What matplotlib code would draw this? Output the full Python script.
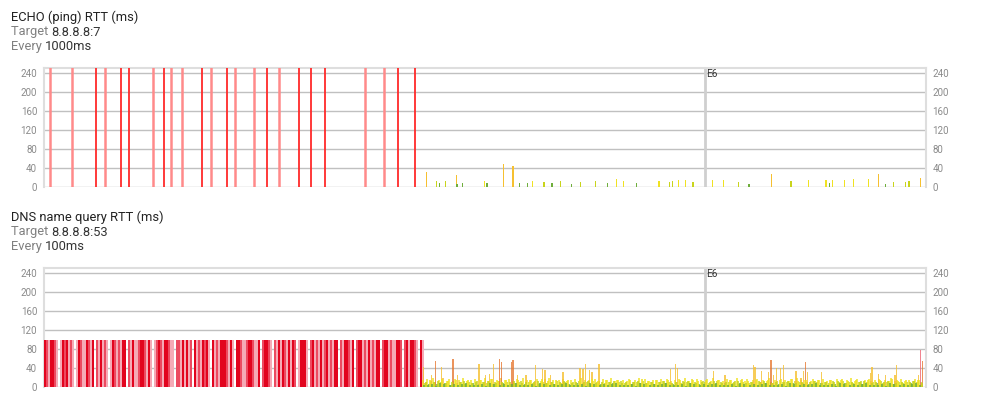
"""
RTT strip charts: ECHO (ping) and DNS name query, shared time window.
"""
import matplotlib
matplotlib.use("Agg")
import matplotlib.pyplot as plt
import numpy as np

plt.rcParams["font.family"] = ["Roboto", "DejaVu Sans"]

# time axis: seconds since window start
WINDOW = 881.5
Y_TOP = 250.6
EVENT_T = 661.0
EVENT_LABEL = "E6"

# ---- ECHO (ping), every 1000ms ----
echo_timeout_t = [5.5, 27.7, 52.3, 60.7, 77.3, 85.3, 108.7, 120.0, 127.3, 137.7,
                  158.3, 167.3, 182.7, 190.7, 210.0, 222.7, 234.7, 255.3, 267.3,
                  281.0, 320.5, 339.7, 354.3, 371.0]
# how many probes in that slot timed out (1 = some, 2 = all)
echo_timeout_count = [1, 1, 2, 1, 2, 2, 1, 2, 1, 1, 2, 1, 2, 1, 1, 2, 1, 2, 2,
                      2, 1, 1, 2, 2]
echo_t = [382.3, 392.3, 395.7, 401.3, 412.3, 413.0, 418.7, 440.7, 443.0, 459.3,
          469.0, 475.3, 483.3, 488.3, 500.0, 508.0, 516.7, 527.3, 536.3, 551.7,
          563.3, 572.3, 579.3, 592.3, 615.0, 625.3, 628.7, 634.3, 641.3, 649.0,
          668.3, 679.3, 694.5, 705.0, 727.3, 747.0, 764.7, 782.0, 785.3, 788.7,
          800.7, 809.3, 824.3, 834.3, 841.7, 849.7, 861.7, 865.0, 876.3]
echo_ms = [32, 12, 8, 12, 25, 6, 8, 13, 8, 48,
           44, 8, 8, 13, 10, 8, 12, 6, 10, 12,
           8, 16, 13, 8, 13, 10, 12, 15, 14, 10,
           15, 15, 10, 7, 27, 12, 14, 14, 8, 15,
           15, 16, 16, 27, 6, 11, 10, 12, 20]

# ---- DNS name query, every 100ms ----
DNS_TIMEOUT_MS = 100
# failures per 2 s bucket during the outage (0 none .. 3 all)
dns_fail_density = ("3213321013" "2312101321" "1321302131" "2101321213"
                    "3021311233" "2131012321" "3321102213" "1312031213"
                    "2310312133" "3213103321" "1233211302" "3321021313"
                    "2131320133" "3102312131" "2312133021" "3321302331"
                    "2131213302" "3312113320" "2313321031")
DNS_BUCKET = 2.0
dns_ok_start = 379.0
dns_ok_ms = [
    14, 9, 16, 6, 12, 18, 10, 7, 15, 11, 20, 8, 13, 17, 5, 12, 16, 9, 14, 11, 19, 7, 13, 10, 15,
    8, 17, 12, 6, 14, 10, 18, 9, 13, 16, 7, 11, 15, 12, 20, 8, 14, 10, 17, 6, 13, 9, 16, 11, 12,
    18, 7, 14, 10, 15, 9, 12, 17, 6, 13, 11, 16, 8, 19, 10, 14, 7, 12, 15, 9, 17, 11, 13, 6, 14,
    10, 16, 8, 12, 18, 9, 14, 11, 15, 7, 13, 17, 10, 12, 6, 16, 9, 14, 11, 19, 8, 13, 15, 10, 12,
    15, 9, 13, 17, 7, 11, 14, 10, 18, 8, 12, 16, 9, 13, 11, 15, 6, 14, 10, 17, 12, 8, 16, 11, 13,
    7, 14, 11, 16, 9, 12, 19, 10, 13, 8, 15, 11, 17, 6, 14, 12, 10, 16, 9, 13, 18, 7, 12, 15, 10,
    13, 8, 16, 11, 14, 9, 12, 18, 7, 15, 10, 13, 17, 9, 11, 14, 6, 16, 12, 10, 15, 8, 13, 19, 11,
    9, 15, 12, 7, 17, 10, 14, 11, 13, 16, 8, 12, 18, 10, 14, 9, 15, 11, 7, 13, 16, 12, 10, 14, 8,
    16, 11, 13, 9, 15, 12, 6, 17, 10, 14, 12, 8, 15, 11, 19, 9, 13, 16, 10, 12, 7, 14, 11, 17, 13,
    10, 14, 8, 16, 12, 9, 15, 11, 13, 18, 7, 12, 14, 10, 16, 9, 13, 11, 15, 8, 12, 17, 10, 14, 11,
]
# the probes in between (odd 1 s slots), repeating pattern of the quiet baseline
dns_between_ms = [5, 11, 4, 14, 7, 10, 3, 12, 8, 16, 6, 9, 13, 5, 11, 7, 15, 4, 10, 6,
                  12, 8, 14, 5, 9]
dns_spike_t = [379.3, 387.7, 391.7, 397.3, 409.0, 413.7, 435.0, 441.3, 445.3, 449.7,
               455.7, 457.7, 467.7, 469.0, 473.7, 482.0, 491.7, 498.3, 501.0, 506.7,
               519.0, 536.0, 539.0, 541.7, 545.7, 548.0, 555.0, 626.3, 631.7, 633.7,
               669.7, 681.0, 709.7, 711.0, 717.3, 724.7, 727.0, 729.7, 732.3, 736.3,
               739.7, 752.0, 757.0, 759.7, 761.3, 763.3, 777.7, 826.3, 828.0, 834.3,
               841.7, 851.0, 852.3, 874.3, 876.3, 878.3]
dns_spike_ms = [42, 26, 54, 42, 59, 26, 48, 25, 28, 49,
                59, 52, 52, 58, 26, 26, 46, 38, 35, 26,
                31, 40, 37, 48, 36, 32, 48, 38, 48, 40,
                34, 25, 46, 42, 34, 31, 56, 26, 40, 40,
                46, 34, 20, 34, 53, 31, 32, 29, 42, 27,
                25, 26, 47, 26, 78, 54]


def rtt_color(v):
    if v < 9:
        return "#6fae3c"
    if v < 13:
        return "#c9d41c"
    if v < 20:
        return "#f0e222"
    if v < 50:
        return "#f6c030"
    if v < 70:
        return "#e67a34"
    return "#ee6674"


def style_axes(ax):
    ax.set_xlim(0, WINDOW)
    ax.set_ylim(0, Y_TOP)
    ax.set_yticks(range(0, 241, 40))
    ax.set_xticks([])
    ax.tick_params(axis="y", length=0, labelsize=7, labelcolor="#8a8a8a", pad=5,
                   labelright=True, right=False)
    ax.grid(axis="y", color="#c0c0c0", linewidth=1)
    ax.set_axisbelow(True)
    for side in ("left", "right", "top"):
        ax.spines[side].set_color("#dedede")
        ax.spines[side].set_linewidth(1.5)
    ax.spines["bottom"].set_visible(False)
    ax.axvline(EVENT_T, color="#cfcfcf", linewidth=2, zorder=1)
    ax.text(EVENT_T + 1.5, 232, EVENT_LABEL, fontsize=7.3, color="#333333",
            va="baseline", ha="left", zorder=5)


def header(fig, y_px, title, target, every):
    H = 403.0
    x0 = 11 / 985
    fs = 9.3
    fig.text(x0, 1 - y_px / H, title, fontsize=fs, color="#222222", va="baseline")
    r = fig.canvas.get_renderer()
    for i, (lab, val) in enumerate([("Target ", target), ("Every ", every)]):
        y = 1 - (y_px + 14.8 * (i + 1)) / H
        t = fig.text(x0, y, lab, fontsize=fs, color="#808080", va="baseline")
        w = t.get_window_extent(r).width / fig.bbox.width
        fig.text(x0 + w, y, val, fontsize=fs, color="#333333", va="baseline")


fig = plt.figure(figsize=(9.85, 4.03), dpi=100)
ax_w = (925.5 - 44) / 985
ax_h = (187 - 68.3) / 403
ax1 = fig.add_axes([44 / 985, 1 - 187 / 403, ax_w, ax_h])
ax2 = fig.add_axes([44 / 985, 1 - 387 / 403, ax_w, ax_h])

# ECHO
style_axes(ax1)
for t, n in zip(echo_timeout_t, echo_timeout_count):
    ax1.axvline(t, color="#ff2a2a" if n == 2 else "#ff8a8a",
                linewidth=1.3 if n == 2 else 1.8, zorder=3)
ax1.bar(echo_t, echo_ms, width=1.5, color=[rtt_color(v) for v in echo_ms],
        linewidth=0, zorder=3)

# DNS
style_axes(ax2)
fail_colors = {"1": "#f5aab6", "2": "#ec4a60", "3": "#e2041e"}
fail_t = [DNS_BUCKET * (i + 0.5) for i, c in enumerate(dns_fail_density) if c != "0"]
fail_c = [fail_colors[c] for c in dns_fail_density if c != "0"]
ax2.bar(fail_t, DNS_TIMEOUT_MS, width=DNS_BUCKET * 0.8, color=fail_c, linewidth=0, zorder=3)

ok_t = dns_ok_start + DNS_BUCKET * np.arange(len(dns_ok_ms))
ax2.bar(ok_t, dns_ok_ms, width=1.5, color=[rtt_color(v) for v in dns_ok_ms],
        alpha=0.75, linewidth=0, zorder=3)
between_ms = np.resize(dns_between_ms, len(dns_ok_ms))
ax2.bar(ok_t + 1.0, between_ms, width=1.2, color=[rtt_color(v) for v in between_ms],
        alpha=0.8, linewidth=0, zorder=4)
ax2.bar(dns_spike_t, dns_spike_ms, width=1.5,
        color=[rtt_color(v) for v in dns_spike_ms], alpha=0.8, linewidth=0, zorder=3)

header(fig, 20.7, "ECHO (ping) RTT (ms)", "8.8.8.8:7", "1000ms")
header(fig, 220.7, "DNS name query RTT (ms)", "8.8.8.8:53", "100ms")

fig.savefig("out.png", dpi=100)
